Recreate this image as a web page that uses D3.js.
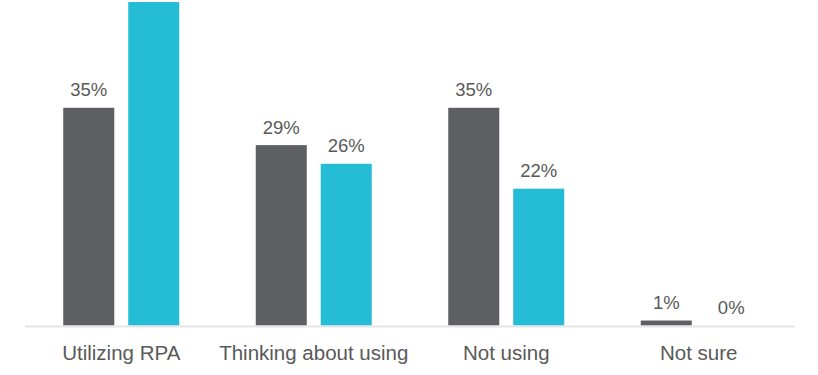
<!DOCTYPE html>
<html>
<head>
<meta charset="utf-8">
<script src="https://cdn.jsdelivr.net/npm/d3@7"></script>
<style>
html,body{margin:0;padding:0;background:#fff;overflow:hidden;}
svg{display:block;}
</style>
</head>
<body>
<svg id="chart" width="818" height="375"></svg>
<script>
const categories = ["Utilizing RPA", "Thinking about using", "Not using", "Not sure"];
const seriesNames = ["Series A", "Series B"];
const seriesA = [35, 29, 35, 0.8];
const seriesB = [52, 26, 22, 0];
const colors = ["#5e5f63", "#25bdd6"];

const W = 818, H = 375;
const svg = d3.select("#chart");

const baseY = 325.5;
const x0 = d3.scaleBand().domain(categories).range([25, 795]).padding(0);
const x1 = d3.scaleBand().domain(seriesNames).range([38.25, 154.25]).paddingInner(0.215).paddingOuter(0);
const y = d3.scaleLinear().domain([0, 52.33]).range([baseY, 0]);

const data = categories.map((c, i) => ({cat: c, vals: [seriesA[i], seriesB[i]]}));

const g = svg.append("g");
const groups = g.selectAll("g.cat").data(data).join("g")
  .attr("transform", d => `translate(${x0(d.cat)},0)`);

groups.selectAll("rect").data(d => d.vals.map((v, j) => ({v, s: seriesNames[j], j})))
  .join("rect")
  .attr("x", d => x1(d.s))
  .attr("width", x1.bandwidth())
  .attr("y", d => y(d.v))
  .attr("height", d => baseY - y(d.v))
  .attr("fill", d => colors[d.j]);

// data labels (the label of the bar that runs past the top edge lies outside the view, as in the reference)
groups.selectAll("text.lbl")
  .data(d => d.vals.map((v, j) => ({v, s: seriesNames[j], j})).filter(e => y(e.v) - 11.5 - 15 > 0))
  .join("text")
  .attr("class", "lbl")
  .attr("x", d => x1(d.s) + x1.bandwidth() / 2)
  .attr("y", d => y(d.v) - 11.5)
  .attr("text-anchor", "middle")
  .attr("font-family", "Liberation Sans, Arial, sans-serif")
  .attr("font-size", "18.5px")
  .attr("fill", "#595959")
  .text(d => Math.round(d.v) + "%");

// baseline axis
const axis = d3.axisBottom(x0).tickSize(0).tickPadding(0);
const ax = svg.append("g").attr("transform", `translate(0,${baseY + 1})`).call(axis);
ax.select(".domain").attr("stroke", "#e5e5e5").attr("stroke-width", 2).attr("d", `M25,0H795`);
ax.selectAll(".tick text")
  .attr("y", 33)
  .attr("dy", 0)
  .attr("font-family", "Liberation Sans, Arial, sans-serif")
  .attr("font-size", "20.5px")
  .attr("fill", "#595959");
</script>
</body>
</html>
